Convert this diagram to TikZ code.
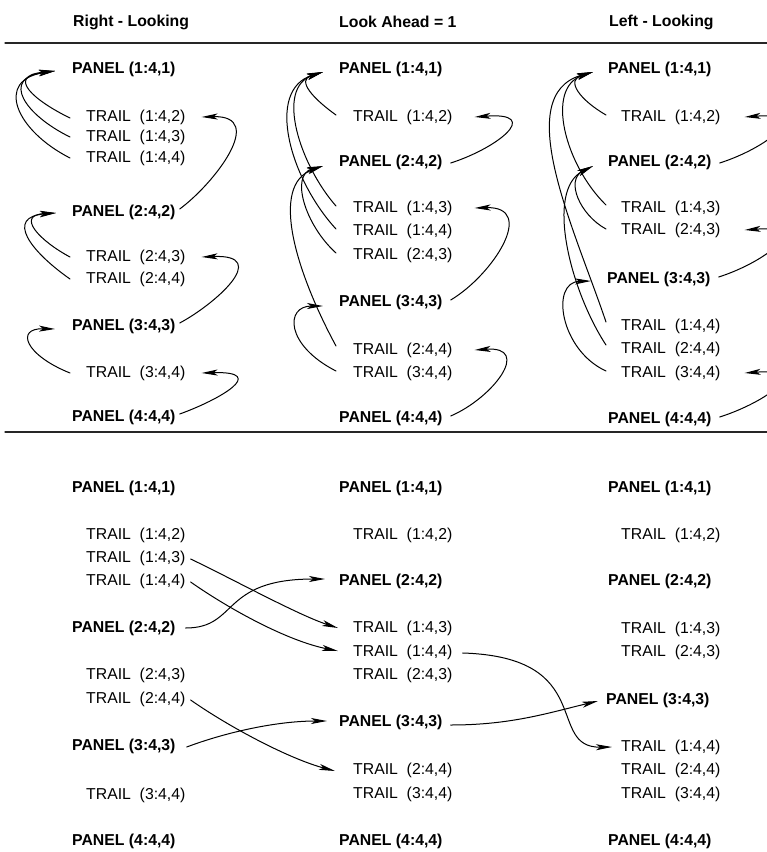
\documentclass[tikz,border=0pt]{standalone}
\usepackage{fontspec}
\setmainfont{Liberation Sans}
\usetikzlibrary{arrows.meta}
\newcommand\figfont{\fontsize{15.8}{19}\selectfont}
\tikzset{
  >={Stealth[length=16pt, width=6pt, inset=4pt]},
  every picture/.style={line cap=round, line join=round},
  panel/.style={font=\figfont\bfseries, anchor=west, inner sep=0pt},
  trail/.style={font=\figfont, anchor=west, inner sep=0pt},
  head/.style={font=\figfont\bfseries, anchor=west, inner sep=0pt},
  sig/.style={->, line width=1pt},
  rule/.style={line width=1.3pt, draw=black!85},
}
\begin{document}
\begin{tikzpicture}[x=1pt, y=1pt]
  \useasboundingbox (0,0) rectangle (767,-852);
  % headings and rules
  \node[head] (hR) at (73,-22) {Right - Looking};
  \node[head] (hA) at (339,-22) {Look Ahead = 1};
  \node[head] (hL) at (609,-22) {Left - Looking};
  \draw[rule] (5,-43) -- (780,-43);
  \draw[rule] (5,-432) -- (780,-432);
  % top: right-looking
  \node[panel] (tRp1) at (72,-69) {PANEL (1:4,1)};
  \node[trail] (tR12) at (86,-117) {TRAIL\ \ (1:4,2)};
  \node[trail] (tR13) at (86,-137) {TRAIL\ \ (1:4,3)};
  \node[trail] (tR14) at (86,-158) {TRAIL\ \ (1:4,4)};
  \node[panel] (tRp2) at (72,-212) {PANEL (2:4,2)};
  \node[trail] (tR23) at (86,-257) {TRAIL\ \ (2:4,3)};
  \node[trail] (tR24) at (86,-279) {TRAIL\ \ (2:4,4)};
  \node[panel] (tRp3) at (72,-326) {PANEL (3:4,3)};
  \node[trail] (tR34) at (86,-373) {TRAIL\ \ (3:4,4)};
  \node[panel] (tRp4) at (72,-417) {PANEL (4:4,4)};
  % top: look ahead
  \node[panel] (tAp1) at (339,-69) {PANEL (1:4,1)};
  \node[trail] (tA12) at (353,-117) {TRAIL\ \ (1:4,2)};
  \node[panel] (tAp2) at (339,-162) {PANEL (2:4,2)};
  \node[trail] (tA13) at (353,-208) {TRAIL\ \ (1:4,3)};
  \node[trail] (tA14) at (353,-231) {TRAIL\ \ (1:4,4)};
  \node[trail] (tA23) at (353,-255) {TRAIL\ \ (2:4,3)};
  \node[panel] (tAp3) at (339,-302) {PANEL (3:4,3)};
  \node[trail] (tA24) at (353,-350) {TRAIL\ \ (2:4,4)};
  \node[trail] (tA34) at (353,-373) {TRAIL\ \ (3:4,4)};
  \node[panel] (tAp4) at (339,-418) {PANEL (4:4,4)};
  % top: left-looking
  \node[panel] (tLp1) at (608,-69) {PANEL (1:4,1)};
  \node[trail] (tL12) at (621,-117) {TRAIL\ \ (1:4,2)};
  \node[panel] (tLp2) at (608,-162) {PANEL (2:4,2)};
  \node[trail] (tL13) at (621,-208) {TRAIL\ \ (1:4,3)};
  \node[trail] (tL23) at (621,-230) {TRAIL\ \ (2:4,3)};
  \node[panel] (tLp3) at (607,-279) {PANEL (3:4,3)};
  \node[trail] (tL14) at (621,-326) {TRAIL\ \ (1:4,4)};
  \node[trail] (tL24) at (621,-349) {TRAIL\ \ (2:4,4)};
  \node[trail] (tL34) at (621,-373) {TRAIL\ \ (3:4,4)};
  \node[panel] (tLp4) at (608,-419) {PANEL (4:4,4)};
  % bottom: right-looking
  \node[panel] (bRp1) at (72,-488) {PANEL (1:4,1)};
  \node[trail] (bR12) at (86,-535) {TRAIL\ \ (1:4,2)};
  \node[trail] (bR13) at (86,-558) {TRAIL\ \ (1:4,3)};
  \node[trail] (bR14) at (86,-581) {TRAIL\ \ (1:4,4)};
  \node[panel] (bRp2) at (72,-628) {PANEL (2:4,2)};
  \node[trail] (bR23) at (86,-675) {TRAIL\ \ (2:4,3)};
  \node[trail] (bR24) at (86,-699) {TRAIL\ \ (2:4,4)};
  \node[panel] (bRp3) at (72,-746) {PANEL (3:4,3)};
  \node[trail] (bR34) at (86,-795) {TRAIL\ \ (3:4,4)};
  \node[panel] (bRp4) at (72,-841) {PANEL (4:4,4)};
  % bottom: look ahead
  \node[panel] (bAp1) at (339,-488) {PANEL (1:4,1)};
  \node[trail] (bA12) at (353,-535) {TRAIL\ \ (1:4,2)};
  \node[panel] (bAp2) at (339,-581) {PANEL (2:4,2)};
  \node[trail] (bA13) at (353,-628) {TRAIL\ \ (1:4,3)};
  \node[trail] (bA14) at (353,-652) {TRAIL\ \ (1:4,4)};
  \node[trail] (bA23) at (353,-675) {TRAIL\ \ (2:4,3)};
  \node[panel] (bAp3) at (339,-722) {PANEL (3:4,3)};
  \node[trail] (bA24) at (353,-770) {TRAIL\ \ (2:4,4)};
  \node[trail] (bA34) at (353,-794) {TRAIL\ \ (3:4,4)};
  \node[panel] (bAp4) at (339,-841) {PANEL (4:4,4)};
  % bottom: left-looking
  \node[panel] (bLp1) at (608,-488) {PANEL (1:4,1)};
  \node[trail] (bL12) at (621,-535) {TRAIL\ \ (1:4,2)};
  \node[panel] (bLp2) at (608,-581) {PANEL (2:4,2)};
  \node[trail] (bL13) at (621,-629) {TRAIL\ \ (1:4,3)};
  \node[trail] (bL23) at (621,-652) {TRAIL\ \ (2:4,3)};
  \node[panel] (bLp3) at (606,-700) {PANEL (3:4,3)};
  \node[trail] (bL14) at (621,-747) {TRAIL\ \ (1:4,4)};
  \node[trail] (bL24) at (621,-770) {TRAIL\ \ (2:4,4)};
  \node[trail] (bL34) at (621,-794) {TRAIL\ \ (3:4,4)};
  \node[panel] (bLp4) at (608,-841) {PANEL (4:4,4)};
  % top: right-looking arrows
  \draw[sig] ([xshift=-16pt,yshift=-1pt]tR12.west) .. controls +(-35,17) and +(-50,-5) .. ([xshift=-17pt,yshift=-2pt]tRp1.west);
  \draw[sig] ([xshift=-16pt]tR13.west) .. controls +(-45,22) and +(-55,-7) .. ([xshift=-17pt,yshift=-2pt]tRp1.west);
  \draw[sig] ([xshift=-16pt]tR14.west) .. controls +(-55,28) and +(-60,-9) .. ([xshift=-17pt,yshift=-2pt]tRp1.west);
  \draw[sig] ([xshift=-16pt]tR23.west) .. controls +(-30,16) and +(-41,-2) .. ([xshift=-16pt,yshift=-1pt]tRp2.west);
  \draw[sig] ([xshift=-16pt]tR24.west) .. controls +(-40,28) and +(-51,-4) .. ([xshift=-16pt,yshift=-1pt]tRp2.west);
  \draw[sig] ([xshift=-16pt]tR34.west) .. controls +(-45,18) and +(-40,1) .. ([xshift=-17pt,yshift=-3pt]tRp3.west);
  \draw[sig] ([xshift=4pt,yshift=3pt]tRp2.east) .. controls +(34,25) and +(66,2) .. ([xshift=16pt]tR12.east);
  \draw[sig] ([xshift=4pt,yshift=3pt]tRp3.east) .. controls +(34,18) and +(71,3) .. ([xshift=16pt]tR23.east);
  \draw[sig] ([xshift=4pt,yshift=3pt]tRp4.east) .. controls +(39,14) and +(68,2) .. ([xshift=16pt]tR34.east);
  % top: look-ahead arrows
  \draw[sig] ([xshift=-17pt,yshift=2pt]tA12.west) .. controls +(-21,15) and +(-28,-8) .. ([xshift=-16pt,yshift=-3pt]tAp1.west);
  \draw[sig] ([xshift=-17pt,yshift=2pt]tA13.west) .. controls +(-36,41) and +(-48,-16) .. ([xshift=-16pt,yshift=-3pt]tAp1.west);
  \draw[sig] ([xshift=-17pt,yshift=2pt]tA14.west) .. controls +(-46,50) and +(-58,-18) .. ([xshift=-16pt,yshift=-3pt]tAp1.west);
  \draw[sig] ([xshift=-17pt,yshift=2pt]tA23.west) .. controls +(-31,28) and +(-33,-9) .. ([xshift=-16pt,yshift=-4pt]tAp2.west);
  \draw[sig] ([xshift=-17pt,yshift=4pt]tA24.west) .. controls +(-41,76) and +(-53,-19) .. ([xshift=-16pt,yshift=-4pt]tAp2.west);
  \draw[sig] ([xshift=-17pt,yshift=2pt]tA34.west) .. controls +(-51,26) and +(-38,0) .. ([xshift=-16pt,yshift=-4pt]tAp3.west);
  \draw[sig] ([xshift=8pt,yshift=-1pt]tAp2.east) .. controls +(47,15) and +(68,5) .. ([xshift=22pt]tA12.east);
  \draw[sig] ([xshift=8pt,yshift=2pt]tAp3.east) .. controls +(42,25) and +(63,2) .. ([xshift=22pt]tA13.east);
  \draw[sig] ([xshift=8pt,yshift=2pt]tAp4.east) .. controls +(42,18) and +(58,4) .. ([xshift=22pt]tA24.east);
  % top: left-looking arrows
  \draw[sig] ([xshift=-15pt,yshift=2pt]tL12.west) .. controls +(-26,15) and +(-28,-8) .. ([xshift=-15pt,yshift=-3pt]tLp1.west);
  \draw[sig] ([xshift=-15pt,yshift=3pt]tL13.west) .. controls +(-41,40) and +(-48,-16) .. ([xshift=-15pt,yshift=-3pt]tLp1.west);
  \draw[sig] ([xshift=-15pt,yshift=4pt]tL14.west) .. controls +(-31,92) and +(-83,-23) .. ([xshift=-15pt,yshift=-3pt]tLp1.west);
  \draw[sig] ([xshift=-15pt,yshift=1pt]tL23.west) .. controls +(-26,14) and +(-28,-14) .. ([xshift=-15pt,yshift=-4pt]tLp2.west);
  \draw[sig] ([xshift=-15pt,yshift=4pt]tL24.west) .. controls +(-36,55) and +(-48,-24) .. ([xshift=-15pt,yshift=-4pt]tLp2.west);
  \draw[sig] ([xshift=-15pt,yshift=2pt]tL34.west) .. controls +(-46,21) and +(-41,-1) .. ([xshift=-16pt,yshift=-2pt]tLp3.west);
  \draw[sig] ([xshift=8pt,yshift=-1pt]tLp2.east) .. controls +(47,15) and +(68,5) .. ([xshift=24pt]tL12.east);
  \draw[sig] ([xshift=8pt,yshift=2pt]tLp3.east) .. controls +(47,15) and +(68,5) .. ([xshift=24pt]tL23.east);
  \draw[sig] ([xshift=8pt,yshift=2pt]tLp4.east) .. controls +(47,15) and +(68,5) .. ([xshift=24pt]tL34.east);
  % bottom arrows
  \draw[sig] ([xshift=5pt,yshift=-1pt]bR13.east) .. controls +(40,-19) and +(-40,13) .. ([xshift=-15pt]bA13.west);
  \draw[sig] ([xshift=5pt,yshift=-1pt]bR14.east) .. controls +(40,-28) and +(-50,10) .. ([xshift=-15pt,yshift=1pt]bA14.west);
  \draw[sig] ([xshift=10pt]bRp2.east) .. controls +(53,0) and +(-105,0) .. ([xshift=-14pt,yshift=2pt]bAp2.west);
  \draw[sig] ([xshift=5pt,yshift=-1pt]bR24.east) .. controls +(40,-28) and +(-45,12) .. ([xshift=-18pt,yshift=-1pt]bA24.west);
  \draw[sig] ([xshift=11pt,yshift=-1pt]bRp3.east) .. controls +(40,15) and +(-50,0) .. ([xshift=-12pt,yshift=1pt]bAp3.west);
  \draw[sig] ([xshift=8pt,yshift=-3pt]bAp3.east) .. controls +(60,0) and +(-50,-12) .. ([xshift=-8pt,yshift=-1pt]bLp3.west);
  \draw[sig] ([xshift=10pt,yshift=-1pt]bA14.east) .. controls +(135,-4) and +(-67,-1) .. ([xshift=-9pt]bL14.west);
\end{tikzpicture}
\end{document}
